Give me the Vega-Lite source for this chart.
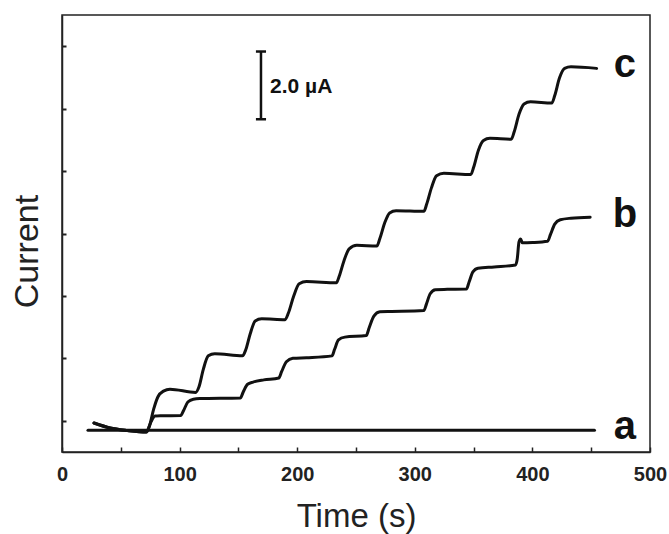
{
  "$schema": "https://vega.github.io/schema/vega-lite/v6.json",
  "width": 588,
  "height": 437,
  "autosize": {"type": "none"},
  "padding": {"left": 62, "top": 15, "right": 19, "bottom": 82},
  "background": "white",
  "config": {
    "view": {"stroke": "#222", "strokeWidth": 1.5},
    "font": "Liberation Sans"
  },
  "datasets": {
    "curves": [
      {"s": "a", "t": 22.1, "i": 0.70},
      {"s": "a", "t": 452.8, "i": 0.70},
      {"s": "c", "t": 27.2, "i": 0.93},
      {"s": "c", "t": 41.0, "i": 0.77},
      {"s": "c", "t": 55.5, "i": 0.69},
      {"s": "c", "t": 71.8, "i": 0.64},
      {"s": "c", "t": 74.4, "i": 0.84},
      {"s": "c", "t": 78.0, "i": 1.38},
      {"s": "c", "t": 81.6, "i": 1.77},
      {"s": "c", "t": 86.3, "i": 1.95},
      {"s": "c", "t": 91.8, "i": 2.01},
      {"s": "c", "t": 113.6, "i": 1.91},
      {"s": "c", "t": 116.5, "i": 2.09},
      {"s": "c", "t": 120.1, "i": 2.64},
      {"s": "c", "t": 124.4, "i": 3.08},
      {"s": "c", "t": 129.9, "i": 3.15},
      {"s": "c", "t": 153.5, "i": 3.08},
      {"s": "c", "t": 156.4, "i": 3.29},
      {"s": "c", "t": 160.0, "i": 3.78},
      {"s": "c", "t": 164.3, "i": 4.20},
      {"s": "c", "t": 169.8, "i": 4.27},
      {"s": "c", "t": 189.7, "i": 4.24},
      {"s": "c", "t": 192.6, "i": 4.46},
      {"s": "c", "t": 196.9, "i": 4.98},
      {"s": "c", "t": 201.7, "i": 5.39},
      {"s": "c", "t": 207.9, "i": 5.46},
      {"s": "c", "t": 233.3, "i": 5.42},
      {"s": "c", "t": 235.8, "i": 5.64},
      {"s": "c", "t": 239.8, "i": 6.13},
      {"s": "c", "t": 244.2, "i": 6.51},
      {"s": "c", "t": 250.7, "i": 6.62},
      {"s": "c", "t": 267.7, "i": 6.60},
      {"s": "c", "t": 270.3, "i": 6.84},
      {"s": "c", "t": 274.3, "i": 7.33},
      {"s": "c", "t": 278.6, "i": 7.66},
      {"s": "c", "t": 284.1, "i": 7.73},
      {"s": "c", "t": 307.7, "i": 7.71},
      {"s": "c", "t": 310.2, "i": 7.95},
      {"s": "c", "t": 314.2, "i": 8.47},
      {"s": "c", "t": 318.5, "i": 8.85},
      {"s": "c", "t": 324.7, "i": 8.93},
      {"s": "c", "t": 347.6, "i": 8.89},
      {"s": "c", "t": 350.1, "i": 9.13},
      {"s": "c", "t": 354.1, "i": 9.67},
      {"s": "c", "t": 358.4, "i": 9.98},
      {"s": "c", "t": 363.9, "i": 10.05},
      {"s": "c", "t": 382.0, "i": 10.02},
      {"s": "c", "t": 384.6, "i": 10.27},
      {"s": "c", "t": 388.6, "i": 10.82},
      {"s": "c", "t": 392.9, "i": 11.15},
      {"s": "c", "t": 398.4, "i": 11.22},
      {"s": "c", "t": 416.5, "i": 11.18},
      {"s": "c", "t": 419.0, "i": 11.42},
      {"s": "c", "t": 423.0, "i": 11.98},
      {"s": "c", "t": 427.4, "i": 12.29},
      {"s": "c", "t": 432.8, "i": 12.34},
      {"s": "c", "t": 454.6, "i": 12.29},
      {"s": "b", "t": 27.2, "i": 0.93},
      {"s": "b", "t": 41.0, "i": 0.77},
      {"s": "b", "t": 55.5, "i": 0.69},
      {"s": "b", "t": 71.8, "i": 0.64},
      {"s": "b", "t": 75.5, "i": 0.95},
      {"s": "b", "t": 79.1, "i": 1.15},
      {"s": "b", "t": 84.5, "i": 1.16},
      {"s": "b", "t": 100.9, "i": 1.17},
      {"s": "b", "t": 103.4, "i": 1.33},
      {"s": "b", "t": 107.0, "i": 1.60},
      {"s": "b", "t": 111.7, "i": 1.69},
      {"s": "b", "t": 117.2, "i": 1.71},
      {"s": "b", "t": 151.6, "i": 1.73},
      {"s": "b", "t": 154.2, "i": 1.93},
      {"s": "b", "t": 157.8, "i": 2.17},
      {"s": "b", "t": 162.5, "i": 2.24},
      {"s": "b", "t": 171.6, "i": 2.31},
      {"s": "b", "t": 184.3, "i": 2.37},
      {"s": "b", "t": 186.8, "i": 2.58},
      {"s": "b", "t": 190.8, "i": 2.89},
      {"s": "b", "t": 196.3, "i": 3.00},
      {"s": "b", "t": 207.9, "i": 3.02},
      {"s": "b", "t": 229.6, "i": 3.08},
      {"s": "b", "t": 231.8, "i": 3.29},
      {"s": "b", "t": 235.1, "i": 3.59},
      {"s": "b", "t": 240.5, "i": 3.68},
      {"s": "b", "t": 258.7, "i": 3.73},
      {"s": "b", "t": 261.2, "i": 3.98},
      {"s": "b", "t": 265.2, "i": 4.35},
      {"s": "b", "t": 270.3, "i": 4.49},
      {"s": "b", "t": 280.4, "i": 4.50},
      {"s": "b", "t": 307.7, "i": 4.53},
      {"s": "b", "t": 309.8, "i": 4.73},
      {"s": "b", "t": 313.1, "i": 5.07},
      {"s": "b", "t": 317.5, "i": 5.20},
      {"s": "b", "t": 327.6, "i": 5.21},
      {"s": "b", "t": 343.9, "i": 5.22},
      {"s": "b", "t": 346.1, "i": 5.44},
      {"s": "b", "t": 349.4, "i": 5.77},
      {"s": "b", "t": 353.7, "i": 5.89},
      {"s": "b", "t": 367.5, "i": 5.93},
      {"s": "b", "t": 385.7, "i": 5.99},
      {"s": "b", "t": 387.1, "i": 6.18},
      {"s": "b", "t": 388.6, "i": 6.73},
      {"s": "b", "t": 390.0, "i": 6.82},
      {"s": "b", "t": 391.5, "i": 6.70},
      {"s": "b", "t": 400.2, "i": 6.71},
      {"s": "b", "t": 412.9, "i": 6.75},
      {"s": "b", "t": 415.4, "i": 6.97},
      {"s": "b", "t": 419.0, "i": 7.30},
      {"s": "b", "t": 423.7, "i": 7.44},
      {"s": "b", "t": 432.8, "i": 7.49},
      {"s": "b", "t": 449.1, "i": 7.52}
    ],
    "bar": [
      {"t": 169.2, "t2": 169.2, "i": 10.66, "i2": 12.83},
      {"t": 164.9, "t2": 173.5, "i": 12.83, "i2": 12.83},
      {"t": 164.9, "t2": 173.5, "i": 10.66, "i2": 10.66}
    ],
    "labels": [
      {"label": "a", "t": 478.7, "i": 0.42},
      {"label": "b", "t": 478.7, "i": 7.21},
      {"label": "c", "t": 478.7, "i": 12.01}
    ],
    "note": [
      {"label": "2.0 µA", "t": 176.9, "i": 11.50}
    ]
  },
  "layer": [
    {
      "data": {"name": "curves"},
      "mark": {"type": "line", "interpolate": "monotone", "stroke": "#111", "strokeWidth": 3, "strokeCap": "round", "clip": true},
      "encoding": {
        "x": {
          "field": "t", "type": "quantitative",
          "scale": {"domain": [0, 500], "nice": false, "zero": false},
          "axis": {
            "title": "Time (s)",
            "titleFontSize": 33,
            "titleFontWeight": "normal",
            "titleColor": "#222",
            "titleX": 294,
            "titleY": 74,
            "titleAlign": "center",
            "titleBaseline": "alphabetic",
            "values": [0, 50, 100, 150, 200, 250, 300, 350, 400, 450, 500],
            "labelExpr": "datum.value % 100 === 0 ? datum.label : ''",
            "labelFontSize": 20,
            "labelFontWeight": "bold",
            "labelColor": "#222",
            "labelPadding": 17,
            "labelFlush": false,
            "labelOverlap": false,
            "tickSize": -5,
            "tickColor": "#222",
            "tickWidth": 1.5,
            "domainColor": "#222",
            "domainWidth": 1.5,
            "grid": false
          }
        },
        "y": {
          "field": "i", "type": "quantitative",
          "scale": {"domain": [0, 14], "nice": false, "zero": false},
          "axis": {
            "title": "Current",
            "titleFontSize": 34,
            "titleFontWeight": "normal",
            "titleColor": "#222",
            "titleX": -25,
            "titleY": 236,
            "titleAngle": -90,
            "titleAlign": "center",
            "titleBaseline": "alphabetic",
            "values": [1, 2, 3, 4, 5, 6, 7, 8, 9, 10, 11, 12, 13],
            "labels": false,
            "tickSize": -4,
            "tickColor": "#222",
            "tickWidth": 2,
            "tickRound": true,
            "domainColor": "#222",
            "domainWidth": 1.5,
            "grid": false
          }
        },
        "detail": {"field": "s", "type": "nominal"},
        "order": {"field": "t", "type": "quantitative"}
      }
    },
    {
      "data": {"name": "bar"},
      "mark": {"type": "rule", "stroke": "#111", "strokeWidth": 2.5},
      "encoding": {
        "x": {"field": "t", "type": "quantitative"},
        "x2": {"field": "t2"},
        "y": {"field": "i", "type": "quantitative"},
        "y2": {"field": "i2"}
      }
    },
    {
      "data": {"name": "labels"},
      "mark": {"type": "text", "fontSize": 40, "fontWeight": "bold", "align": "center", "baseline": "alphabetic", "color": "#111"},
      "encoding": {
        "x": {"field": "t", "type": "quantitative"},
        "y": {"field": "i", "type": "quantitative"},
        "text": {"field": "label"}
      }
    },
    {
      "data": {"name": "note"},
      "mark": {"type": "text", "fontSize": 21, "fontWeight": "bold", "align": "left", "baseline": "alphabetic", "color": "#111"},
      "encoding": {
        "x": {"field": "t", "type": "quantitative"},
        "y": {"field": "i", "type": "quantitative"},
        "text": {"field": "label"}
      }
    }
  ]
}
